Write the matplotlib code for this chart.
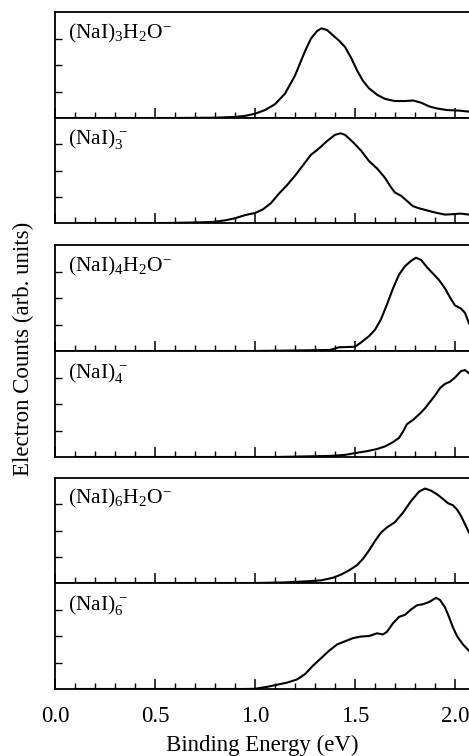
import numpy as np
import matplotlib
matplotlib.use('Agg')
import matplotlib.pyplot as plt
from matplotlib.ticker import MultipleLocator, FixedLocator

plt.rcParams['font.family'] = ['Liberation Serif', 'DejaVu Serif']
plt.rcParams['mathtext.fontset'] = 'custom'
plt.rcParams['mathtext.rm'] = 'Liberation Serif'
plt.rcParams['mathtext.it'] = 'Liberation Serif:italic'

# Espectros (energía de enlace en eV, intensidad normalizada)
x_n3w = [0.10, 0.60, 0.80, 0.90, 0.95, 1.00, 1.05, 1.10, 1.15, 1.20, 1.25, 1.28, 1.31,
         1.333, 1.36, 1.39, 1.42, 1.45, 1.48, 1.51, 1.54, 1.57, 1.61, 1.65, 1.70, 1.75,
         1.79, 1.83, 1.87, 1.91, 1.96, 2.02, 2.07]
y_n3w = [0.00, 0.00, 0.003, 0.01, 0.02, 0.04, 0.075, 0.13, 0.23, 0.40, 0.63, 0.75, 0.82,
         0.846, 0.83, 0.78, 0.73, 0.67, 0.57, 0.45, 0.35, 0.28, 0.22, 0.18, 0.16, 0.16,
         0.165, 0.145, 0.11, 0.09, 0.075, 0.07, 0.06]

x_n3 = [0.10, 0.55, 0.70, 0.79, 0.85, 0.90, 0.95, 1.00, 1.04, 1.08, 1.12, 1.16, 1.20,
        1.24, 1.28, 1.32, 1.36, 1.40, 1.428, 1.45, 1.49, 1.53, 1.57, 1.61, 1.65, 1.68,
        1.70, 1.73, 1.76, 1.79, 1.82, 1.86, 1.90, 1.95, 2.00, 2.025, 2.07]
y_n3 = [0.00, 0.00, 0.005, 0.01, 0.025, 0.045, 0.075, 0.095, 0.13, 0.19, 0.28, 0.36, 0.45,
        0.55, 0.65, 0.71, 0.78, 0.84, 0.854, 0.84, 0.77, 0.69, 0.59, 0.52, 0.43, 0.34,
        0.29, 0.26, 0.21, 0.16, 0.14, 0.12, 0.10, 0.08, 0.085, 0.09, 0.08]

x_n4w = [0.10, 1.00, 1.20, 1.375, 1.42, 1.50, 1.53, 1.57, 1.60, 1.63, 1.66, 1.69, 1.72,
         1.75, 1.78, 1.805, 1.83, 1.86, 1.89, 1.92, 1.95, 1.98, 2.00, 2.03, 2.05, 2.07]
y_n4w = [0.00, 0.00, 0.005, 0.01, 0.035, 0.04, 0.08, 0.14, 0.20, 0.30, 0.44, 0.59, 0.72,
         0.80, 0.85, 0.88, 0.86, 0.79, 0.73, 0.67, 0.59, 0.49, 0.43, 0.40, 0.36, 0.26]

x_n4 = [0.10, 1.10, 1.375, 1.45, 1.51, 1.56, 1.61, 1.65, 1.69, 1.72, 1.74, 1.76, 1.79,
        1.825, 1.85, 1.875, 1.90, 1.925, 1.95, 1.975, 2.00, 2.03, 2.05, 2.07]
y_n4 = [0.00, 0.00, 0.01, 0.02, 0.04, 0.055, 0.075, 0.10, 0.14, 0.18, 0.24, 0.31, 0.35,
        0.41, 0.46, 0.52, 0.58, 0.65, 0.69, 0.71, 0.75, 0.81, 0.82, 0.79]

x_n6w = [0.10, 1.00, 1.14, 1.25, 1.33, 1.39, 1.43, 1.47, 1.51, 1.54, 1.57, 1.60, 1.63,
         1.66, 1.70, 1.74, 1.78, 1.82, 1.85, 1.88, 1.91, 1.94, 1.965, 1.99, 2.01, 2.03,
         2.05, 2.07]
y_n6w = [0.00, 0.00, 0.005, 0.015, 0.025, 0.05, 0.08, 0.12, 0.17, 0.23, 0.31, 0.40, 0.48,
         0.53, 0.58, 0.67, 0.78, 0.87, 0.90, 0.88, 0.845, 0.80, 0.76, 0.74, 0.70, 0.64,
         0.56, 0.48]

x_n6 = [0.10, 0.95, 1.00, 1.06, 1.11, 1.16, 1.21, 1.25, 1.29, 1.33, 1.37, 1.41, 1.45,
        1.49, 1.53, 1.57, 1.61, 1.64, 1.66, 1.69, 1.72, 1.75, 1.78, 1.81, 1.84, 1.87,
        1.905, 1.925, 1.95, 1.97, 1.99, 2.01, 2.04, 2.07]
y_n6 = [0.00, 0.00, 0.002, 0.02, 0.04, 0.06, 0.09, 0.14, 0.22, 0.29, 0.36, 0.42, 0.45,
        0.48, 0.495, 0.50, 0.525, 0.515, 0.54, 0.62, 0.68, 0.70, 0.75, 0.79, 0.80, 0.82,
        0.86, 0.84, 0.77, 0.68, 0.58, 0.50, 0.42, 0.36]

etiquetas = ['(NaI)$_3$H$_2$O$^{-}$', '(NaI)$_3^{\\,-}$',
             '(NaI)$_4$H$_2$O$^{-}$', '(NaI)$_4^{\\,-}$',
             '(NaI)$_6$H$_2$O$^{-}$', '(NaI)$_6^{\\,-}$']
series = [(x_n3w, y_n3w), (x_n3, y_n3), (x_n4w, y_n4w),
          (x_n4, y_n4), (x_n6w, y_n6w), (x_n6, y_n6)]

W, H = 469, 756
fig = plt.figure(figsize=(W / 100, H / 100), dpi=100)

# Posiciones de los paneles en píxeles (arriba, abajo)
paneles = [(12, 118), (118, 223), (245, 351), (351, 457), (478, 583), (583, 689)]
izq = 55

for i, ((top, bot), (xs, ys), lab) in enumerate(zip(paneles, series, etiquetas)):
    ax = fig.add_axes([izq / W, 1 - bot / H, 1 - izq / W, (bot - top) / H])
    ax.plot(xs, ys, color='black', lw=1.5)
    ax.set_xlim(0, 2.07)
    ax.set_ylim(0, 1)
    ax.spines['right'].set_visible(False)
    for s in ['left', 'top', 'bottom']:
        ax.spines[s].set_linewidth(1.3)
    ax.xaxis.set_major_locator(MultipleLocator(0.5))
    ax.xaxis.set_minor_locator(MultipleLocator(0.1))
    ax.yaxis.set_major_locator(FixedLocator([0.25, 0.5, 0.75]))
    ax.tick_params(axis='x', which='major', direction='in', length=7, width=1.1,
                   top=False, labelsize=16.5, pad=12)
    ax.tick_params(axis='x', which='minor', direction='in', length=4, width=1.0, top=False)
    ax.tick_params(axis='y', which='major', direction='in', length=5, width=1.0,
                   right=False, labelleft=False)
    if i < 5:
        ax.tick_params(axis='x', labelbottom=False)
    else:
        ax.set_xticks([0.0, 0.5, 1.0, 1.5, 2.0])
        ax.set_xticklabels(['0.0', '0.5', '1.0', '1.5', '2.0'])
        ax.set_xlabel('Binding Energy (eV)', fontsize=16.5, labelpad=6)
    ax.text(0.031, 0.91, lab, transform=ax.transAxes, fontsize=15.5,
            ha='left', va='top')

fig.text(23 / W, 1 - 348.5 / H, 'Electron Counts (arb. units)', rotation=90,
         ha='center', va='center', fontsize=16.5)

fig.savefig('out.png', dpi=100)
